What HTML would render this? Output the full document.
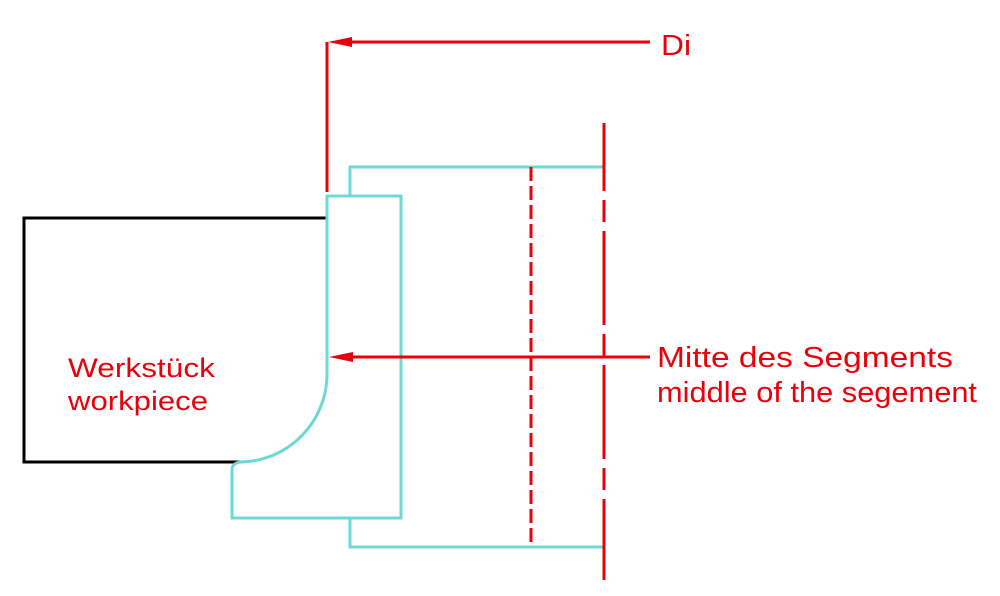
<!DOCTYPE html>
<html><head><meta charset="utf-8"><style>
html,body{margin:0;padding:0;background:#fff;width:1000px;height:596px;overflow:hidden}
text{font-family:"Liberation Sans","DejaVu Sans",sans-serif;fill:#e8000b}
</style></head><body>
<svg width="1000" height="596" viewBox="0 0 1000 596" xmlns="http://www.w3.org/2000/svg">
<polyline points="327,218 24,218 24,462 240,462" fill="none" stroke="#000" stroke-width="3"/>
<polyline points="350,196 350,167 603,167" fill="none" stroke="#6dd8d6" stroke-width="3"/>
<polyline points="350,518 350,547 603,547" fill="none" stroke="#6dd8d6" stroke-width="3"/>
<path d="M327,196 L401,196 L401,518 L232,518 L232,470 Q232,463 241,462 A88,88 0 0 0 327,375 Z" fill="none" stroke="#6dd8d6" stroke-width="3"/>
<line x1="531" y1="167" x2="531" y2="547" stroke="#e8000b" stroke-width="3" stroke-dasharray="14 5"/>
<line x1="604" y1="123" x2="604" y2="580" stroke="#e8000b" stroke-width="3" stroke-dasharray="94 9 22 9" stroke-dashoffset="26"/>
<line x1="327" y1="42" x2="327" y2="192" stroke="#e8000b" stroke-width="3"/>
<line x1="345" y1="42" x2="650" y2="42" stroke="#e8000b" stroke-width="3"/>
<polygon points="328,42 352,37 352,47" fill="#e8000b"/>
<text x="661" y="55" font-size="29" textLength="30" lengthAdjust="spacingAndGlyphs">Di</text>
<line x1="345" y1="357" x2="650" y2="357" stroke="#e8000b" stroke-width="3"/>
<polygon points="329,357 353,352 353,362" fill="#e8000b"/>
<text x="657" y="367" font-size="29" textLength="296" lengthAdjust="spacingAndGlyphs">Mitte des Segments</text>
<text x="657" y="402" font-size="29" textLength="320" lengthAdjust="spacingAndGlyphs">middle of the segement</text>
<text x="68" y="377" font-size="27" textLength="147" lengthAdjust="spacingAndGlyphs">Werkstück</text>
<text x="68" y="410" font-size="27" textLength="140" lengthAdjust="spacingAndGlyphs">workpiece</text>
</svg>
</body></html>
